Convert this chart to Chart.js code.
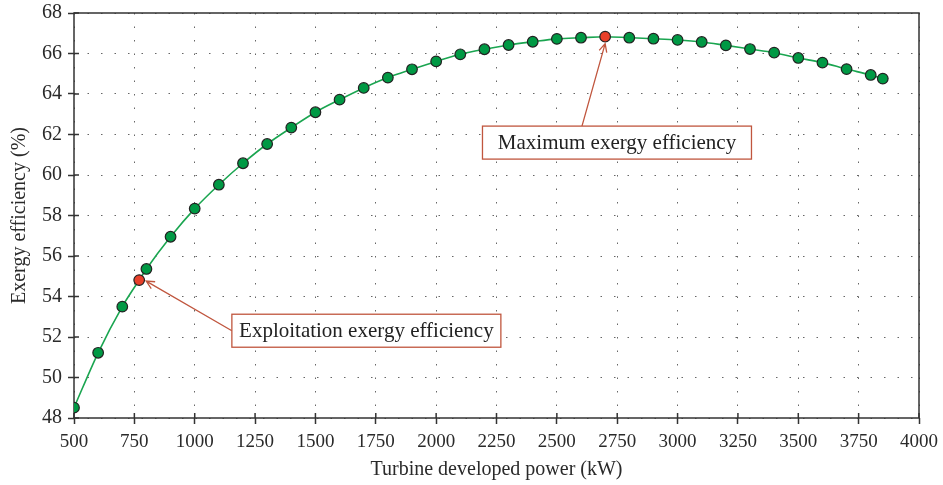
<!DOCTYPE html>
<html>
<head>
<meta charset="utf-8">
<script src="https://cdn.jsdelivr.net/npm/chart.js@4.4.1/dist/chart.umd.min.js"></script>
<style>
  html, body { margin: 0; padding: 0; background: #fff; }
  #wrap { width: 943px; height: 485px; }
</style>
</head>
<body>
<div id="wrap"><canvas id="chart"></canvas></div>
<script>
// turbine power (kW) and exergy efficiency (%)
const powerKW = [500, 600, 700, 800, 900, 1000, 1100, 1200, 1300, 1400, 1500, 1600, 1700, 1800, 1900,
  2000, 2100, 2200, 2300, 2400, 2500, 2600, 2800, 2900, 3000, 3100, 3200, 3300, 3400, 3500, 3600,
  3700, 3800, 3850];
const efficiency = [48.51, 51.22, 53.5, 55.36, 56.95, 58.34, 59.52, 60.58, 61.53, 62.34, 63.10, 63.72,
  64.30, 64.81, 65.22, 65.61, 65.96, 66.21, 66.42, 66.58, 66.72, 66.78, 66.78, 66.73, 66.67, 66.57,
  66.40, 66.22, 66.04, 65.78, 65.55, 65.23, 64.94, 64.76];
// highlighted operating points
const markPowerKW = [770, 2700];
const markEfficiency = [54.81, 66.83];
const markLabels = ['Exploitation exergy efficiency', 'Maximum exergy efficiency'];
// label box centres, in data units
const labelPowerKW = [1711, 2749];
const labelEfficiency = [52.31, 61.6];

const xTicks = [500, 750, 1000, 1250, 1500, 1750, 2000, 2250, 2500, 2750, 3000, 3250, 3500, 3750, 4000];
const yTicks = [48, 50, 52, 54, 56, 58, 60, 62, 64, 66, 68];

const SERIF = "'Liberation Serif', 'Times New Roman', serif";
const GREEN = '#009944';
const RED = '#e8402a';
const NOTE = '#c0563e';

// line goes through every point, the marked ones too
const pts = powerKW.map((x, i) => ({ x, y: efficiency[i], mark: false }));
markPowerKW.forEach((x, i) => pts.push({ x, y: markEfficiency[i], mark: true }));
pts.sort((a, b) => a.x - b.x);

function arrow(ctx, x1, y1, x2, y2) {
  const a = Math.atan2(y2 - y1, x2 - x1);
  const h = 9;
  ctx.beginPath();
  ctx.moveTo(x1, y1);
  ctx.lineTo(x2, y2);
  ctx.moveTo(x2 - h * Math.cos(a - 0.45), y2 - h * Math.sin(a - 0.45));
  ctx.lineTo(x2, y2);
  ctx.lineTo(x2 - h * Math.cos(a + 0.45), y2 - h * Math.sin(a + 0.45));
  ctx.stroke();
}

const frame = {
  id: 'frame',
  beforeDatasetsDraw(chart) {
    const { ctx, chartArea: ca, scales } = chart;
    ctx.save();
    ctx.strokeStyle = '#333';
    ctx.lineWidth = 1.5;
    ctx.strokeRect(ca.left, ca.top, ca.right - ca.left, ca.bottom - ca.top);
    ctx.beginPath();
    xTicks.forEach((v) => {
      const px = scales.x.getPixelForValue(v);
      ctx.moveTo(px, ca.bottom);
      ctx.lineTo(px, ca.bottom - 5);
    });
    yTicks.forEach((v) => {
      const py = scales.y.getPixelForValue(v);
      ctx.moveTo(ca.left, py);
      ctx.lineTo(ca.left + 5, py);
    });
    ctx.stroke();
    ctx.restore();
  },
  afterDatasetsDraw(chart) {
    const { ctx, scales } = chart;
    const bw = 269, bh = 33;
    ctx.save();
    ctx.strokeStyle = NOTE;
    ctx.lineWidth = 1.3;
    markLabels.forEach((txt, i) => {
      const cx = scales.x.getPixelForValue(labelPowerKW[i]);
      const cy = scales.y.getPixelForValue(labelEfficiency[i]);
      const px = scales.x.getPixelForValue(markPowerKW[i]);
      const py = scales.y.getPixelForValue(markEfficiency[i]);
      if (i === 0) {
        arrow(ctx, cx - bw / 2, cy, px + 7, py + 1);
      } else {
        arrow(ctx, cx - 35, cy - bh / 2, px, py + 7);
      }
      ctx.fillStyle = '#fff';
      ctx.fillRect(cx - bw / 2, cy - bh / 2, bw, bh);
      ctx.strokeRect(cx - bw / 2, cy - bh / 2, bw, bh);
      ctx.fillStyle = '#222';
      ctx.font = '21px ' + SERIF;
      ctx.textAlign = 'center';
      ctx.textBaseline = 'middle';
      ctx.fillText(txt, cx, cy + 1);
    });
    ctx.restore();
  }
};

new Chart(document.getElementById('chart'), {
  type: 'line',
  data: {
    datasets: [{
      data: pts,
      borderColor: '#1aa550',
      borderWidth: 1.6,
      cubicInterpolationMode: 'monotone',
      pointRadius: 5.3,
      pointBorderWidth: 1.2,
      pointBorderColor: '#222',
      pointBackgroundColor: (c) => (c.raw && c.raw.mark ? RED : GREEN),
      fill: false
    }]
  },
  options: {
    responsive: true,
    maintainAspectRatio: false,
    animation: false,
    layout: { padding: { left: 0, top: 13, right: 24, bottom: 0 } },
    plugins: { legend: { display: false }, tooltip: { enabled: false } },
    scales: {
      x: {
        type: 'linear',
        min: 500,
        max: 4000,
        afterBuildTicks: (s) => { s.ticks = xTicks.map((v) => ({ value: v })); },
        afterFit: (s) => { s.height = 67; s.paddingLeft = 0; s.paddingRight = 0; },
        border: { display: false, dash: [1.5, 12] },
        grid: { color: '#666', lineWidth: 1, tickLength: 6, tickColor: '#333', tickWidth: 1.5 },
        ticks: {
          font: { family: SERIF, size: 19 },
          color: '#2a2a2a',
          padding: 7,
          maxRotation: 0,
          callback: (v) => String(v)
        },
        title: {
          display: true,
          text: 'Turbine developed power (kW)',
          font: { family: SERIF, size: 20 },
          color: '#2a2a2a',
          padding: { top: 2, bottom: 3 }
        }
      },
      y: {
        min: 48,
        max: 68,
        afterBuildTicks: (s) => { s.ticks = yTicks.map((v) => ({ value: v })); },
        afterFit: (s) => { s.width = 74; s.paddingTop = 0; s.paddingBottom = 0; },
        border: { display: false, dash: [1.5, 12] },
        grid: { color: '#666', lineWidth: 1, tickLength: 6, tickColor: '#333', tickWidth: 1.5 },
        ticks: { font: { family: SERIF, size: 20 }, color: '#2a2a2a', padding: 6 },
        title: {
          display: true,
          text: 'Exergy efficiency (%)',
          font: { family: SERIF, size: 20 },
          color: '#2a2a2a',
          padding: { top: 8, bottom: 2 }
        }
      }
    }
  },
  plugins: [frame]
});
</script>
</body>
</html>
